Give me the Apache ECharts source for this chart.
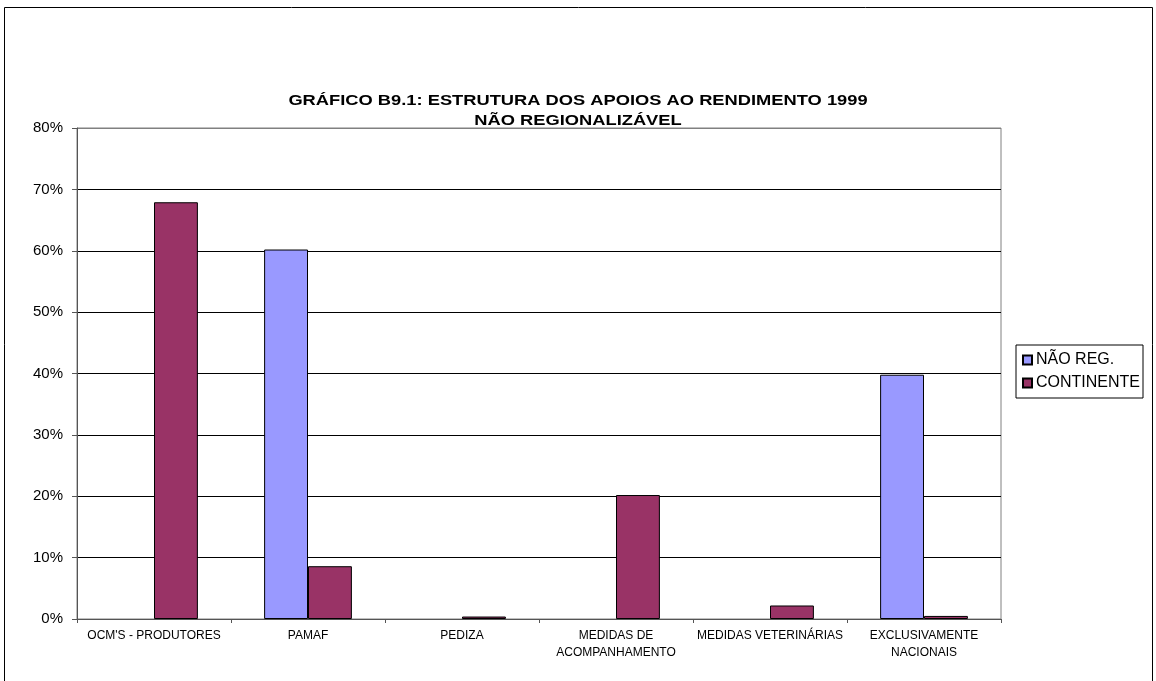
<!DOCTYPE html>
<html>
<head>
<meta charset="utf-8">
<script src="https://cdn.jsdelivr.net/npm/echarts@6/dist/echarts.min.js"></script>
<style>
  html, body { margin: 0; padding: 0; background: #fff; }
  #chart { width: 1156px; height: 681px; }
</style>
</head>
<body>
<div id="chart"></div>
<script>
const titleLines = [
  'GRÁFICO B9.1: ESTRUTURA DOS APOIOS AO RENDIMENTO 1999',
  'NÃO REGIONALIZÁVEL'
];
const categories = [
  "OCM'S - PRODUTORES",
  'PAMAF',
  'PEDIZA',
  'MEDIDAS DE\nACOMPANHAMENTO',
  'MEDIDAS VETERINÁRIAS',
  'EXCLUSIVAMENTE\nNACIONAIS'
];
const naoReg = [0, 60.2, 0, 0, 0, 39.8];
const continente = [67.9, 8.6, 0.4, 20.2, 2.2, 0.5];
const yTicks = [0, 10, 20, 30, 40, 50, 60, 70, 80];

const font = 'Arial, "Liberation Sans", sans-serif';

const chart = echarts.init(document.getElementById('chart'), null, { renderer: 'canvas' });

// title drawn as graphic text so it can be widened like the original
const titleGraphics = titleLines.map(function (line, i) {
  return {
    type: 'text',
    x: 578,
    y: 101 + i * 20,
    originX: 0,
    originY: 0,
    scaleX: 1.22,
    silent: true,
    style: {
      text: line,
      font: 'bold 15px ' + font,
      fill: '#000',
      textAlign: 'center',
      textVerticalAlign: 'middle'
    }
  };
});

chart.setOption({
  animation: false,
  backgroundColor: '#fff',
  graphic: [{
    type: 'rect',
    shape: { x: 4.5, y: 7.5, width: 1148, height: 700 },
    style: { fill: 'none', stroke: '#000', lineWidth: 1 },
    silent: true
  }].concat(titleGraphics),
  legend: {
    orient: 'vertical',
    left: 1016,
    top: 345,
    icon: 'rect',
    itemWidth: 9,
    itemHeight: 9,
    itemGap: 7,
    padding: [7, 3, 7, 6],
    borderColor: '#000',
    borderWidth: 1,
    textStyle: { fontFamily: font, fontSize: 16, color: '#000', padding: [0, 0, 0, -1] },
    data: ['NÃO REG.', 'CONTINENTE']
  },
  grid: {
    left: 77,
    top: 128,
    right: 155,
    bottom: 62,
    show: true,
    borderColor: '#808080',
    borderWidth: 1
  },
  xAxis: {
    type: 'category',
    data: categories,
    axisLine: { lineStyle: { color: '#555', width: 1 } },
    axisTick: { show: true, length: 4, lineStyle: { color: '#555' } },
    axisLabel: { fontFamily: font, fontSize: 12, color: '#000', margin: 8, lineHeight: 17, interval: 0 }
  },
  yAxis: {
    type: 'value',
    min: 0,
    max: 80,
    interval: 10,
    axisLine: { show: true, lineStyle: { color: '#555', width: 1 } },
    axisTick: { show: true, length: 5, lineStyle: { color: '#555' } },
    axisLabel: {
      fontFamily: font, fontSize: 15, color: '#000', margin: 14,
      formatter: function (v) { return yTicks.indexOf(v) >= 0 ? v + '%' : ''; }
    },
    splitLine: { show: true, lineStyle: { color: ['#000', '#000', '#000', '#000', '#000', '#000', '#000', '#000', '#808080'], width: 1 } }
  },
  series: [
    {
      name: 'NÃO REG.',
      type: 'bar',
      data: naoReg.map(function (v) { return v === 0 ? null : v; }),
      barGap: '0%',
      barCategoryGap: '43%',
      itemStyle: { color: '#9999FF', borderColor: '#000', borderWidth: 1 }
    },
    {
      name: 'CONTINENTE',
      type: 'bar',
      data: continente,
      itemStyle: { color: '#993366', borderColor: '#000', borderWidth: 1 }
    }
  ]
});
</script>
</body>
</html>
